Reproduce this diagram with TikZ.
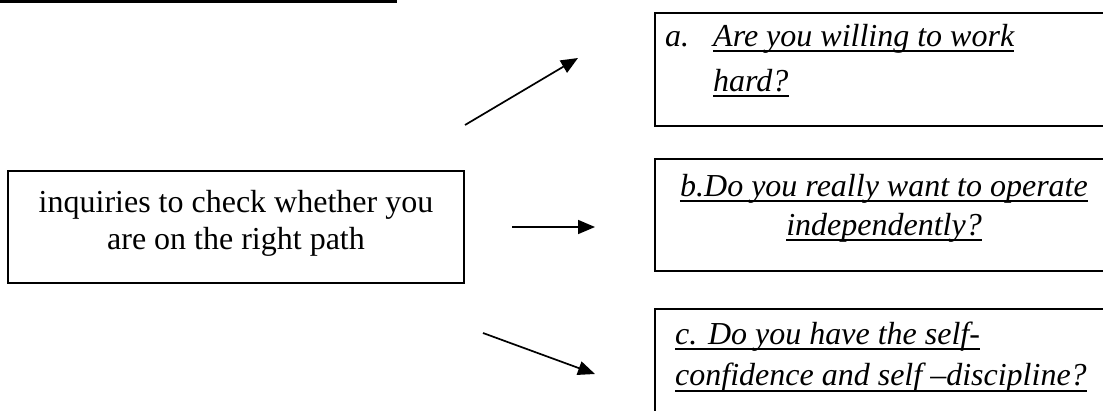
\documentclass[tikz,border=0pt]{standalone}
\usepackage{fontspec}
\setmainfont{Liberation Serif}
\usetikzlibrary{arrows.meta}
\begin{document}
\begin{tikzpicture}[x=1pt,y=-1pt,
  box/.style={draw=black,line width=1.6pt,inner sep=0pt},
  txt/.style={inner sep=0pt,font=\fontsize{32}{38}\selectfont},
  itx/.style={inner sep=0pt,anchor=base west,font=\fontsize{32}{38}\selectfont\itshape},
  ul/.style={line width=1.8pt},
  arr/.style={line width=1.7pt,-{Triangle[length=17pt,width=14pt]}}]
\useasboundingbox (0,0) rectangle (1103,410);
\clip (0,0) rectangle (1103,410);
\fill[black] (0,0) rectangle (397,3);
% source box
\node[box,minimum width=456pt,minimum height=112pt] (src) at (236,227) {};
\node[txt,anchor=base] (s1) at (236,212.7) {inquiries to check whether you};
\node[txt,anchor=base] (s2) at (236,249) {are on the right path};
% box a
\node[box,minimum width=455pt,minimum height=113pt] (qa) at (882.5,69.2) {};
\node[itx] (a0) at (665,46) {a.};
\node[itx] (a1) at (713,46) {Are you willing to work};
\node[itx] (a2) at (713,91) {hard?};
\draw[ul] ([yshift=-5pt]a1.base west) -- ([yshift=-5pt]a1.base east);
\draw[ul] ([yshift=-5pt]a2.base west) -- ([yshift=-5pt]a2.base east);
% box b
\node[box,minimum width=455pt,minimum height=111.7pt] (qb) at (882.5,214.85) {};
\node[itx,anchor=base] (b1) at (884,196) {b.Do you really want to operate};
\node[itx,anchor=base] (b2) at (884,235) {independently?};
\draw[ul] ([yshift=-5pt]b1.base west) -- ([yshift=-5pt]b1.base east);
\draw[ul] ([yshift=-5pt]b2.base west) -- ([yshift=-5pt]b2.base east);
% box c
\node[box,minimum width=455pt,minimum height=121pt] (qc) at (882.5,369.5) {};
\node[itx] (c1) at (675,344) {c. Do you have the self-};
\node[itx] (c2) at (675,385.7) {confidence and self –discipline?};
\draw[ul] ([yshift=-5pt]c1.base west) -- ([yshift=-5pt]c1.base east);
\draw[ul] ([yshift=-5pt]c2.base west) -- ([yshift=-5pt]c2.base east);
% arrows
\coordinate (pa0) at (465,125);
\coordinate (pa1) at (578,58);
\coordinate (pb0) at (512,227);
\coordinate (pb1) at (595,227);
\coordinate (pc0) at (483,333);
\coordinate (pc1) at (595,374);
\draw[arr] (pa0) -- (pa1);
\draw[arr] (pb0) -- (pb1);
\draw[arr] (pc0) -- (pc1);
\end{tikzpicture}
\end{document}
